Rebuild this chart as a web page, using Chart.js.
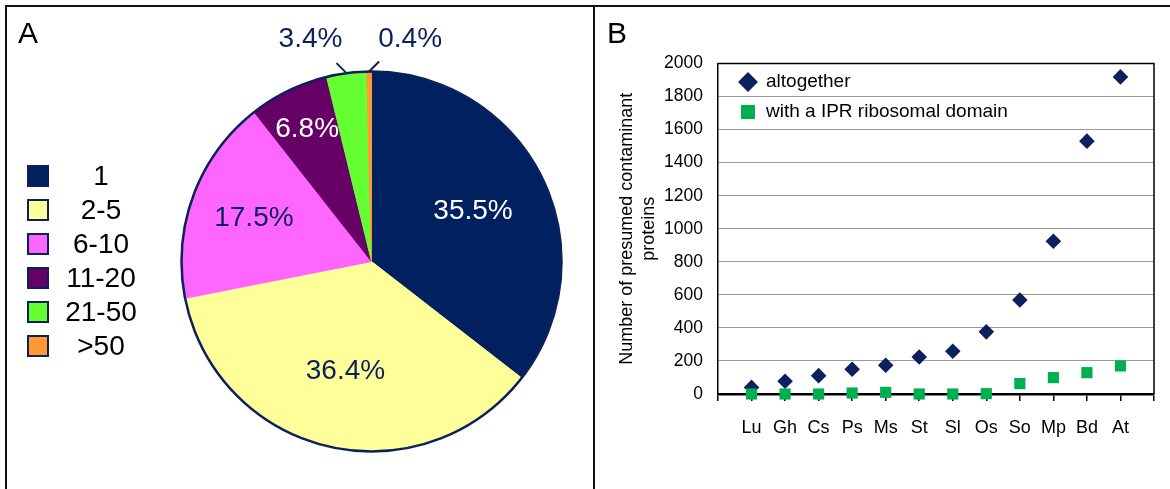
<!DOCTYPE html>
<html>
<head>
<meta charset="utf-8">
<script src="https://cdn.jsdelivr.net/npm/chart.js@4.4.1/dist/chart.umd.min.js"></script>
<style>
  body { margin: 0; background: #fff; width: 1170px; height: 489px; overflow: hidden; position: relative;
         font-family: "Liberation Sans", Arial, sans-serif; }
  #wrapA { position: absolute; left: 0; top: 0; width: 593px; height: 489px; }
  #wrapB { position: absolute; left: 595px; top: 0; width: 575px; height: 489px; }
  .line { position: absolute; background: #111; }
  .tag { position: absolute; font-size: 30px; line-height: 30px; color: #000; }
</style>
</head>
<body>
<div id="wrapA"><canvas id="chartA"></canvas></div>
<div id="wrapB"><canvas id="chartB"></canvas></div>
<div class="line" style="left:5px;top:5px;width:1165px;height:2px"></div>
<div class="line" style="left:5px;top:5px;width:2px;height:484px"></div>
<div class="line" style="left:593px;top:5px;width:2px;height:484px"></div>
<div class="tag" style="left:18px;top:18px">A</div>
<div class="tag" style="left:607px;top:18px">B</div>

<script>
// panel A: share of proteins per size class
var sizeClasses = ['1', '2-5', '6-10', '11-20', '21-50', '>50'];
var sharePercent = [35.5, 36.4, 17.5, 6.8, 3.4, 0.4];

// panel B: presumed contaminants per species
var species = ['Lu', 'Gh', 'Cs', 'Ps', 'Ms', 'St', 'Sl', 'Os', 'So', 'Mp', 'Bd', 'At'];
var altogether = [40, 77, 111, 150, 174, 224, 259, 376, 569, 924, 1530, 1919];
var ribosomal = [0, 0, 0, 6, 10, 0, 0, 2, 63, 99, 129, 170];

var navy = '#0a215c';
var sliceColors = ['#00205f', '#ffff99', '#ff66ff', '#660066', '#66ff33', '#ff9933'];

Chart.defaults.font.family = '"Liberation Sans", Arial, sans-serif';
Chart.defaults.color = '#000';

// percent labels + outer ring of the pie
var pieLabels = {
  id: 'pieLabels',
  afterDatasetsDraw: function(chart, args, opts) {
    var ctx = chart.ctx;
    var meta = chart.getDatasetMeta(0);
    var a0 = meta.data[0];
    ctx.save();
    ctx.beginPath();
    ctx.arc(a0.x, a0.y, a0.outerRadius, 0, Math.PI * 2);
    ctx.lineWidth = 2.5;
    ctx.strokeStyle = navy;
    ctx.stroke();

    ctx.font = '28px "Liberation Sans"';
    ctx.textAlign = 'center';
    ctx.textBaseline = 'middle';
    meta.data.forEach(function(arc, i) {
      var mid = (arc.startAngle + arc.endAngle) / 2;
      var txt = sharePercent[i].toFixed(1) + '%';
      var out = opts.outside[i];
      ctx.fillStyle = opts.textColors[i];
      if (out) {
        var ex = arc.x + Math.cos(mid) * arc.outerRadius;
        var ey = arc.y + Math.sin(mid) * arc.outerRadius;
        var lx = ex + out.dir * 10, ly = ey - 10;
        ctx.beginPath();
        ctx.moveTo(ex, ey);
        ctx.lineTo(lx, ly);
        ctx.lineWidth = 2;
        ctx.strokeStyle = navy;
        ctx.stroke();
        ctx.fillText(txt, lx + out.tx, ly + out.ty);
      } else {
        var r = arc.outerRadius * opts.inside[i];
        ctx.fillText(txt, arc.x + Math.cos(mid) * r, arc.y + Math.sin(mid) * r);
      }
    });
    ctx.restore();
  }
};

var legendA = {
  id: 'legendA',
  afterDraw: function(chart) {
    var ctx = chart.ctx;
    var ds = chart.data.datasets[0];
    ctx.save();
    ctx.font = '28px "Liberation Sans"';
    ctx.textAlign = 'center';
    ctx.textBaseline = 'middle';
    chart.data.labels.forEach(function(lab, i) {
      var cy = 176 + i * 34;
      ctx.fillStyle = ds.backgroundColor[i];
      ctx.fillRect(27, cy - 11, 22, 22);
      ctx.lineWidth = 2;
      ctx.strokeStyle = navy;
      ctx.strokeRect(28, cy - 10, 20, 20);
      ctx.fillStyle = '#000';
      ctx.fillText(lab, 101, cy + 1);
    });
    ctx.restore();
  }
};

new Chart(document.getElementById('chartA'), {
  type: 'pie',
  data: {
    labels: sizeClasses,
    datasets: [{
      data: sharePercent,
      backgroundColor: sliceColors,
      borderColor: sliceColors,
      borderWidth: 1
    }]
  },
  options: {
    responsive: true,
    maintainAspectRatio: false,
    animation: false,
    layout: { padding: { left: 181, right: 31, top: 71, bottom: 37 } },
    plugins: {
      legend: { display: false },
      tooltip: { enabled: false },
      pieLabels: {
        inside: [0.595, 0.595, 0.66, 0.775],
        outside: { 4: { dir: -1, tx: -26, ty: -24 }, 5: { dir: 1, tx: 31, ty: -22 } },
        textColors: ['#fff', navy, navy, '#fff', navy, navy]
      }
    }
  },
  plugins: [pieLabels, legendA]
});

// top and right edge of the plot frame
var frameB = {
  id: 'frameB',
  beforeDatasetsDraw: function(chart) {
    var ctx = chart.ctx, a = chart.chartArea;
    ctx.save();
    ctx.strokeStyle = '#000';
    ctx.lineWidth = 1.5;
    ctx.beginPath();
    ctx.moveTo(a.left, a.top);
    ctx.lineTo(a.right, a.top);
    ctx.lineTo(a.right, a.bottom);
    ctx.stroke();
    ctx.restore();
  }
};

var legendB = {
  id: 'legendB',
  afterDraw: function(chart) {
    var ctx = chart.ctx, a = chart.chartArea;
    ctx.save();
    ctx.font = '19px "Liberation Sans"';
    ctx.textBaseline = 'middle';
    ctx.textAlign = 'left';
    chart.data.datasets.forEach(function(ds, i) {
      var cx = a.left + 30, cy = a.top + 18.5 + i * 30;
      ctx.fillStyle = ds.backgroundColor;
      ctx.beginPath();
      if (ds.pointStyle === 'rectRot') {
        ctx.moveTo(cx - 10, cy);
        ctx.lineTo(cx, cy - 10);
        ctx.lineTo(cx + 10, cy);
        ctx.lineTo(cx, cy + 10);
        ctx.closePath();
      } else {
        ctx.rect(cx - 7, cy - 7, 14, 14);
      }
      ctx.fill();
      ctx.fillStyle = '#000';
      ctx.fillText(ds.label, a.left + 48, cy);
    });
    ctx.restore();
  }
};

new Chart(document.getElementById('chartB'), {
  type: 'scatter',
  data: {
    datasets: [{
      label: 'altogether',
      data: altogether.map(function(v, i) { return { x: i + 1, y: v }; }),
      pointStyle: 'rectRot',
      pointRadius: 7.8,
      backgroundColor: '#0c1f5e',
      borderWidth: 0,
      order: 1,
      clip: false
    }, {
      label: 'with a IPR ribosomal domain',
      data: ribosomal.map(function(v, i) { return { x: i + 1, y: v }; }),
      pointStyle: 'rect',
      pointRadius: 7.9,
      backgroundColor: '#00b050',
      borderWidth: 0,
      order: 0,
      clip: false
    }]
  },
  options: {
    responsive: true,
    maintainAspectRatio: false,
    animation: false,
    layout: { padding: { left: 0, right: 16, top: 63.5, bottom: 35 } },
    plugins: { legend: { display: false }, tooltip: { enabled: false } },
    scales: {
      x: {
        type: 'linear',
        min: 0,
        max: 13,
        afterFit: function(s) { s.height = 60; },
        ticks: {
          stepSize: 1,
          autoSkip: false,
          maxRotation: 0,
          padding: 16,
          font: { size: 18 },
          callback: function(v) { return species[v - 1] || ''; }
        },
        grid: { drawOnChartArea: false, drawTicks: true, tickLength: 7, color: '#000', lineWidth: 1.5 },
        border: { color: '#000', width: 2.5 }
      },
      y: {
        min: 0,
        max: 2000,
        afterFit: function(s) { s.width = 123; },
        ticks: { stepSize: 200, padding: 15, font: { size: 17.5 }, callback: function(v) { return String(v); } },
        grid: { color: '#9a9a9a', lineWidth: 1, drawTicks: false },
        border: { color: '#000', width: 1.5 },
        title: {
          display: true,
          text: ['Number of presumed contaminant', 'proteins'],
          font: { size: 18, lineHeight: 1.22 },
          padding: { top: 21, bottom: 0 }
        }
      }
    }
  },
  plugins: [frameB, legendB]
});
</script>
</body>
</html>
